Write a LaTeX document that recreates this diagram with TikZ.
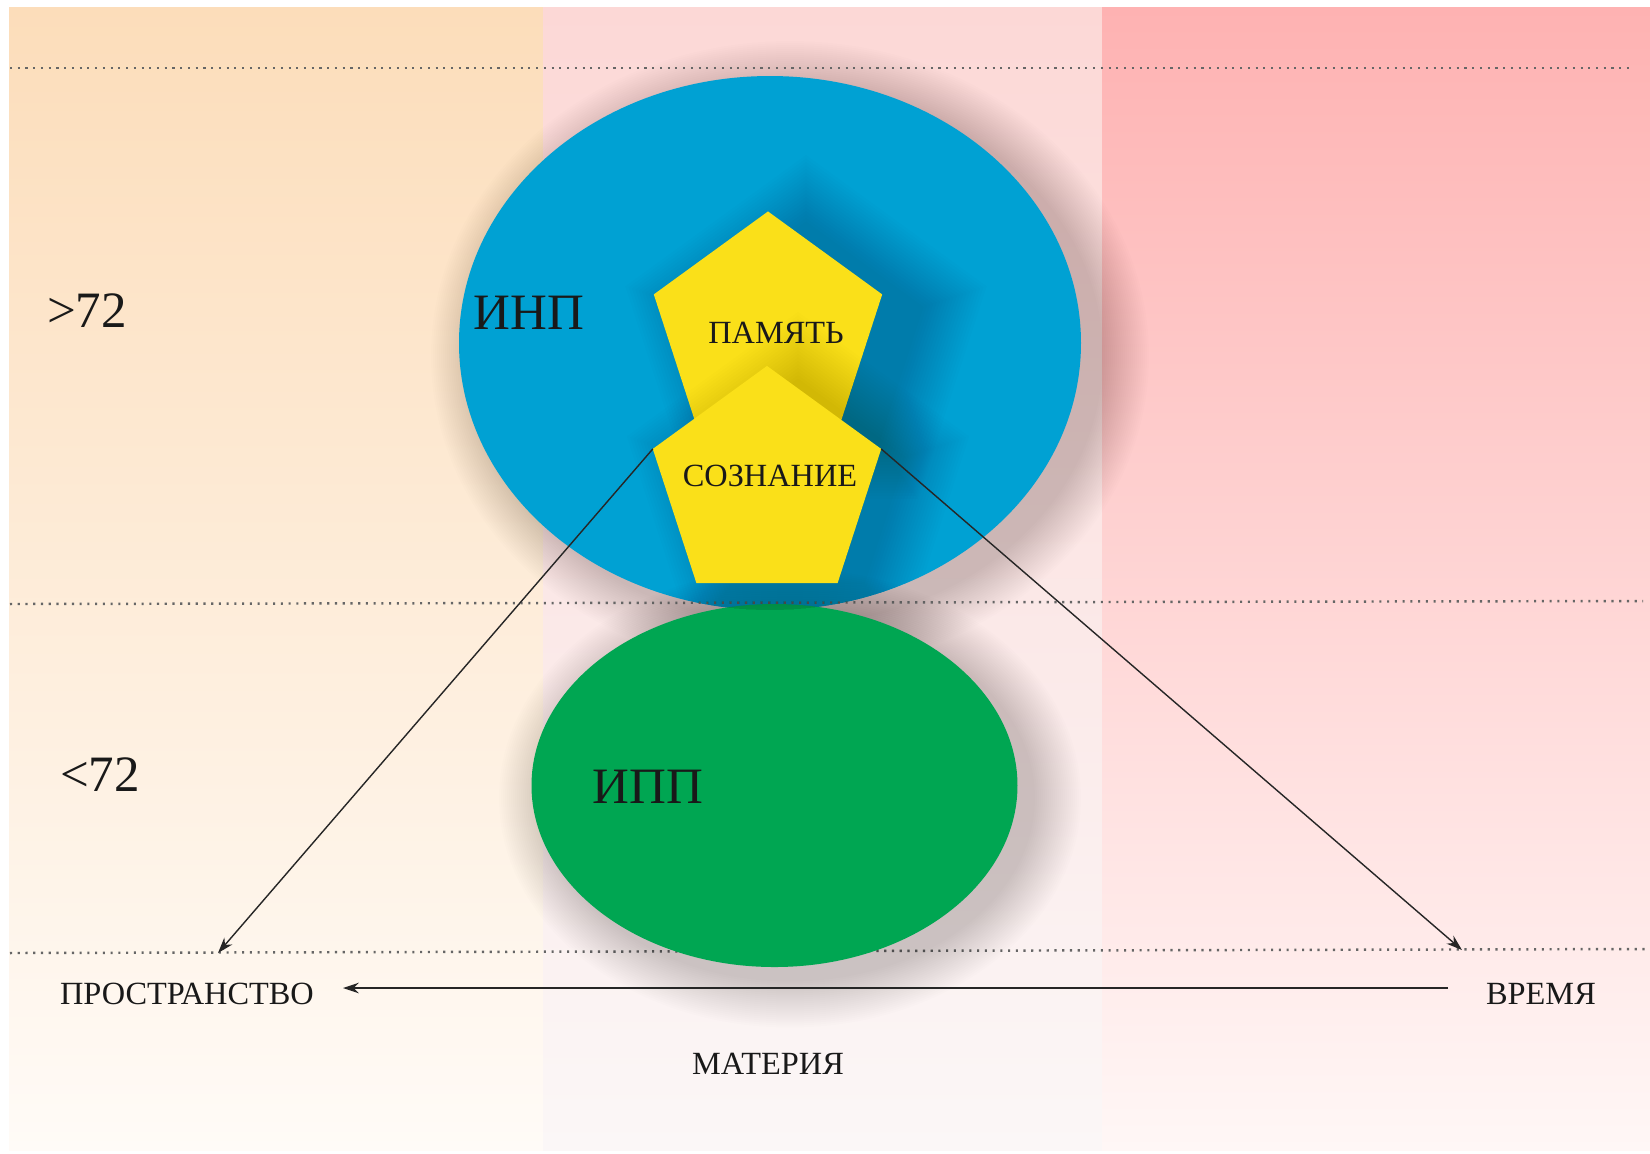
\documentclass[tikz,border=0pt]{standalone}
\usepackage{fontspec}
\setmainfont{Liberation Serif}
\usepackage{xcolor}
\usepackage{tikz}
\usetikzlibrary{shapes.geometric, arrows.meta}
\definecolor{peachtop}{RGB}{252,221,186}
\definecolor{peachbot}{RGB}{255,251,247}
\definecolor{rosetop}{RGB}{252,216,214}
\definecolor{rosebot}{RGB}{251,247,247}
\definecolor{pinktop}{RGB}{254,178,178}
\definecolor{pinkbot}{RGB}{255,247,246}
\definecolor{inpblue}{RGB}{0,161,211}
\definecolor{ippgreen}{RGB}{0,166,82}
\definecolor{penyellow}{RGB}{250,224,25}
\tikzstyle{conn} = [line width=0.4pt, draw=black!85, -{Stealth[length=4.5pt,width=3pt]}]
\tikzstyle{dotline} = [line width=0.7pt, draw=black!60, dash pattern=on 0.6pt off 1.6pt]
\tikzstyle{pent} = [regular polygon, regular polygon sides=5, minimum size=2.4cm, inner sep=0pt, outer sep=0pt, fill=penyellow]
\tikzstyle{pentshade} = [regular polygon, regular polygon sides=5, inner sep=0pt, outer sep=0pt, fill=black, opacity=0.008]
\tikzstyle{bigtxt} = [font=\fontsize{14.5}{16}\selectfont, text=black!90, inner sep=0pt]
\tikzstyle{smalltxt} = [font=\fontsize{9.2}{11}\selectfont, text=black!90, inner sep=0pt]

\begin{document}
\begin{tikzpicture}[x=0.01cm,y=-0.01cm]
                \useasboundingbox (0,0) rectangle (1650,1153);
                % three columns
                \shade[top color=peachtop, bottom color=peachbot] (9,7) rectangle (543,1150);
                \shade[top color=rosetop, bottom color=rosebot] (543,7) rectangle (1102,1150);
                \shade[top color=pinktop, bottom color=pinkbot] (1102,7) rectangle (1650,1150);
                % upper oval
                \foreach \k in {0,...,23}
                    \fill[black, opacity=0.009] (790,356) ellipse ({359-2*\k} and {315-2*\k});
                \fill[inpblue] (770,343) ellipse (311 and 267);
                % levels
                \draw[dotline] (10,68) -- (1631,68);
                \draw[dotline] (10,604) -- (1643,601);
                \draw[dotline] (10,953) -- (1645,949);
                % lower oval
                \foreach \k in {0,...,23}
                    \fill[black, opacity=0.009] (790,798) ellipse ({291-2*\k} and {229.5-2*\k});
                \fill[ippgreen] (774.5,785.5) ellipse (243 and 181.5);
                % pentagons
                \begin{scope}
                    \clip (770,343) ellipse (311 and 267);
                    \foreach \k in {0,...,19}
                        \node[pentshade, minimum size=3.8cm-0.07cm*\k] at (806,345) {};
                \end{scope}
                \node[pent] (pam) at (768,331.5) {};
                \begin{scope}
                    \clip (770,343) ellipse (311 and 267);
                    \foreach \k in {0,...,19}
                        \node[pentshade, minimum size=3.6cm-0.07cm*\k] at (798,492) {};
                \end{scope}
                \node[pent] (soz) at (767,486) {};
                % labels
                \node[smalltxt] (pamtxt) at (776,332.5) {ПАМЯТЬ};
                \node[smalltxt] (soztxt) at (770,475.5) {СОЗНАНИЕ};
                \node[bigtxt] (inptxt) at (529,312.5) {ИНП};
                \node[bigtxt] (ipptxt) at (648,787) {ИПП};
                \node[bigtxt] (above) at (87,311) {>72};
                \node[bigtxt] (below) at (100,775) {<72};
                \node[smalltxt] (prostr) at (187,993.5) {ПРОСТРАНСТВО};
                \node[smalltxt] (vremya) at (1541,993.5) {ВРЕМЯ};
                \node[smalltxt] (materia) at (768,1064) {МАТЕРИЯ};
                % arrows
                \coordinate (spc) at (218,953);
                \coordinate (tim) at (1462,950);
                \coordinate (hstart) at (1448,988);
                \coordinate (hend) at (343,988);
                \draw[conn] (soz.corner 2) -- (spc);
                \draw[conn] (soz.corner 5) -- (tim);
                \draw[conn] (hstart) -- (hend);
            \end{tikzpicture}
\end{document}
